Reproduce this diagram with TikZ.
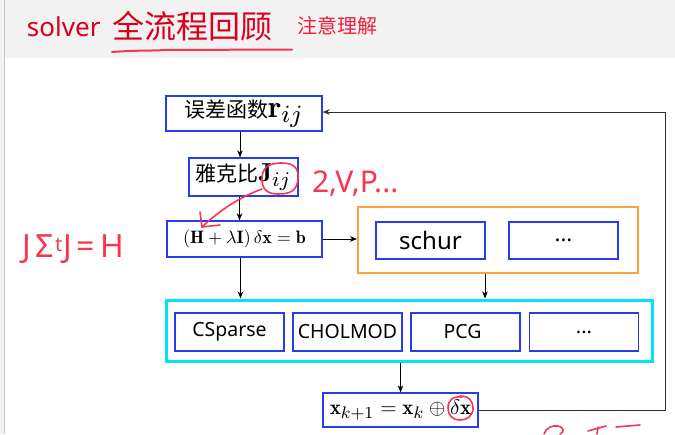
\documentclass[tikz,border=0pt]{standalone}
\usepackage{graphicx}
\usepackage{fontspec}
\usetikzlibrary{arrows.meta}
\DeclareMathSizes{10}{10}{8}{6}
\newfontfamily\cjk{Noto Sans CJK SC}
\newfontfamily\sansf{Noto Sans}
\definecolor{topgray}{RGB}{242,242,242}
\definecolor{bordergray}{RGB}{200,200,200}
\definecolor{titlered}{RGB}{218,0,28}
\definecolor{notered}{RGB}{240,30,60}
\definecolor{handred}{RGB}{245,55,80}
\definecolor{boxblue}{RGB}{40,60,235}
\definecolor{boxorange}{RGB}{250,160,60}
\definecolor{boxcyan}{RGB}{0,228,250}
\definecolor{loopgray}{RGB}{50,50,50}
\newcommand{\mathscaled}[2]{{\fontsize{10}{12}\selectfont\scalebox{#1}{$#2$}}}
\tikzset{
  bluebox/.style={draw=boxblue, line width=1.2pt, inner sep=0pt, minimum height=37pt, minimum width=109pt},
  groupbox/.style={line width=#1, inner sep=0pt},
  arr/.style={-{Stealth[length=7pt,width=5.5pt,inset=2pt]}, line width=0.8pt},
  hand/.style={handred, line width=1.6pt, line cap=round, line join=round},
  txt/.style={inner sep=0pt, outer sep=0pt}
}
\begin{document}
\begin{tikzpicture}[x=1pt,y=-1pt]
\useasboundingbox (0,0) rectangle (675,434);
\clip (0,0) rectangle (675,434);
% background
\fill[topgray] (0,0) rectangle (675,58);
\fill[topgray] (0,0) rectangle (4,434);
\draw[bordergray, line width=1pt] (4.5,0) -- (4.5,434);
% title
\node[txt, anchor=base west, text=titlered] (t1) at (27,36) {\sansf\fontsize{26}{30}\selectfont solver};
\node[txt, anchor=base west, text=titlered] (t2) at (112,38.5) {\cjk\fontsize{32}{36}\selectfont 全流程回顾};
\node[txt, anchor=base west, text=notered] (t3) at (297,33) {\cjk\fontsize{20}{24}\selectfont 注意理解};
\draw[handred, line width=2pt, line cap=round] (112,52) .. controls (140,50) and (150,51) .. (165,50) -- (292,49.5);
% group boxes
\node[groupbox=2pt, draw=boxorange, minimum width=280pt, minimum height=66pt] (orange) at (498,240) {};
\node[groupbox=3pt, draw=boxcyan, minimum width=486pt, minimum height=61pt] (cyan) at (409,330.5) {};
% boxes
\node[bluebox, minimum width=156pt, minimum height=35pt] (r) at (244,113.5)
  {{\cjk\fontsize{21}{24}\selectfont 误差函数}\mathscaled{3.1}{\mathbf{r}_{ij}}};
\node[bluebox, minimum width=109pt, minimum height=38pt] (J) at (243.5,177)
  {{\cjk\fontsize{21}{24}\selectfont 雅克比}\mathscaled{2.6}{\mathbf{J}_{ij}}};
\node[bluebox, minimum width=155pt, minimum height=36pt] (H) at (244.5,239)
  {\mathscaled{1.8}{(\mathbf{H}+\lambda\mathbf{I})\,\delta\mathbf{x}=\mathbf{b}}};
\node[bluebox] (schur) at (430.5,240.5) {\sansf\fontsize{24}{28}\selectfont schur};
\node[bluebox] (dots1) at (563.5,240.5) {\sansf\fontsize{22}{26}\selectfont ...};
\node[bluebox, minimum height=38pt] (cs) at (229.5,332) {\sansf\fontsize{19.5}{24}\selectfont CSparse};
\node[bluebox, minimum height=38pt] (chol) at (347.5,332) {\sansf\fontsize{19.5}{24}\selectfont CHOLMOD};
\node[bluebox, minimum height=38pt] (pcg) at (465.5,332) {\sansf\fontsize{19.5}{24}\selectfont PCG\hspace*{6pt}};
\node[bluebox, minimum height=38pt] (dots2) at (584,332) {\sansf\fontsize{20}{24}\selectfont ...};
\node[bluebox, minimum width=155pt, minimum height=34pt] (xk) at (400.5,410)
  {\mathscaled{2.1}{\mathbf{x}_{k+1}=\mathbf{x}_k\oplus\delta\mathbf{x}}};
% connectors
\draw[arr] ([xshift=-4pt]r.south) -- ([xshift=-4pt]r.south |- J.north);
\draw[arr] ([xshift=-4pt]J.south) -- ([xshift=-4pt]J.south |- H.north);
\draw[arr] (H.east) -- (H.east -| orange.west);
\draw[arr] ([xshift=-4pt]H.south) -- ([xshift=-4pt]H.south |- cyan.north);
\draw[arr] ([xshift=-13pt]orange.south) -- ([xshift=-13pt]orange.south |- cyan.north);
\draw[arr] (cyan.south -| xk.north) -- (xk.north);
\coordinate (c1) at (665,410);
\coordinate (c2) at (665,112);
\draw[arr, loopgray] (xk.east) -- (c1) -- (c2) -- (c2 -| r.east);
% handwritten annotations
\draw[hand] (280,163) .. controls (294,162.5) and (299,168) .. (298,179) .. controls (297,191) and (290,194) .. (278,194) .. controls (266,194) and (262,188) .. (262,179) .. controls (262,168) and (268,163.5) .. (280,163);
\draw[hand] (262,189) .. controls (240,197) and (220,210) .. (202,227);
\draw[hand] (200,212) -- (202,227) -- (220,225);
\draw[hand] (460,396) .. controls (470,396) and (473,402) .. (473,408) .. controls (473,416) and (467,420) .. (460,420) .. controls (452,420) and (448,415) .. (448,408) .. controls (448,400) and (453,396) .. (462,397);
\node[txt, anchor=base west, text=handred] (hw1) at (23,257) {\sansf\fontsize{32}{34}\selectfont J\kern4ptΣ\kern1pt\raisebox{6pt}{\fontsize{20}{22}\selectfont t}\kern1ptJ\kern5pt=\kern5ptH};
\node[txt, anchor=base west, text=handred] (hw2) at (312,192) {\sansf\fontsize{30}{34}\selectfont 2,V,P...};
\draw[hand] (544,434) .. controls (546,428) and (552,425) .. (558,426) .. controls (565,428) and (564,432) .. (560,434);
\draw[hand] (588,431) -- (606,426);
\draw[hand] (598,427) -- (597,434);
\draw[hand] (616,427) -- (640,425);
\end{tikzpicture}
\end{document}
